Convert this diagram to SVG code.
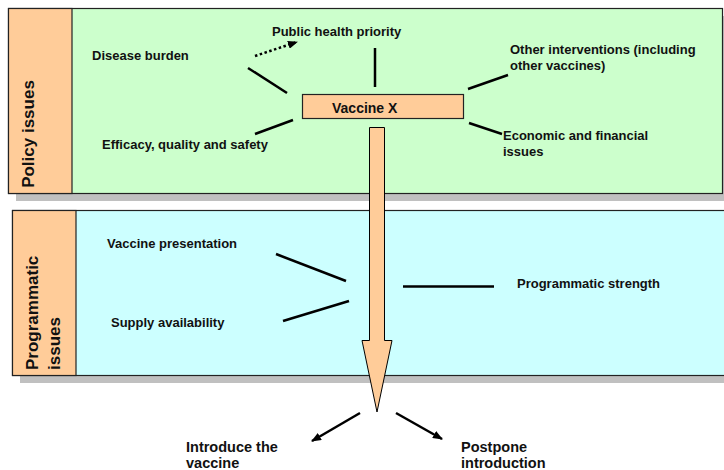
<svg xmlns="http://www.w3.org/2000/svg" width="724" height="470" viewBox="0 0 724 470">
<style>
text{font-family:"Liberation Sans",Arial,sans-serif;font-weight:bold;font-size:13px;fill:#111}
.lab{font-size:17px}
.out{font-size:14.5px}
.shadow{fill:#c0c0c0}
.frame{stroke:#222;stroke-width:1.2}
.ln{stroke:#000;stroke-width:2.5;fill:none}
</style>
<defs>
<marker id="ah" markerWidth="10" markerHeight="8" refX="9" refY="4" orient="auto" markerUnits="userSpaceOnUse">
<path d="M0,0 L10,4 L0,8 Z" fill="#000"/>
</marker>
</defs>
<rect width="724" height="470" fill="#fff"/>
<g id="policy">
<rect class="shadow" x="16" y="16" width="714" height="185"/>
<rect class="frame" x="8.5" y="8.5" width="714" height="185" fill="#ccffcc"/>
<rect class="frame" x="8.5" y="8.5" width="63.5" height="185" fill="#ffcc99"/>
<text class="lab" transform="translate(34,134) rotate(-90)" text-anchor="middle">Policy issues</text>
</g>
<g id="programmatic">
<rect class="shadow" x="20" y="218" width="710" height="165"/>
<rect class="frame" x="12.5" y="210.5" width="716" height="165" fill="#ccffff"/>
<rect class="frame" x="12.5" y="210.5" width="63.5" height="165" fill="#ffcc99"/>
<text class="lab" transform="translate(38,370) rotate(-90)">Programmatic</text>
<text class="lab" transform="translate(60,370) rotate(-90)">issues</text>
</g>
<g id="vaccine-x">
<rect x="302.5" y="94.5" width="161" height="24" fill="#ffcc99" stroke="#222" stroke-width="1.2"/>
<text x="332" y="113" style="font-size:14px">Vaccine X</text>
</g>
<g id="big-arrow">
<path d="M369.5,127.5 H384.5 V340.5 H392 L377,412 L362,340.5 H369.5 Z" fill="#ffcc99" stroke="#000" stroke-width="1"/>
</g>
<g id="labels">
<text x="92" y="60">Disease burden</text>
<text x="272" y="36">Public health priority</text>
<text x="510" y="54">Other interventions (including</text>
<text x="510" y="70">other vaccines)</text>
<text x="102" y="149">Efficacy, quality and safety</text>
<text x="503" y="140">Economic and financial</text>
<text x="503" y="156">issues</text>
<text x="107" y="248">Vaccine presentation</text>
<text x="111" y="327">Supply availability</text>
<text x="517" y="288">Programmatic strength</text>
<text class="out" x="186" y="452">Introduce the</text>
<text class="out" x="186" y="468">vaccine</text>
<text class="out" x="461" y="452">Postpone</text>
<text class="out" x="461" y="468">introduction</text>
</g>
<g id="connectors">
<line class="ln" x1="248" y1="68" x2="287" y2="93"/>
<line class="ln" x1="255" y1="134" x2="293" y2="120"/>
<line class="ln" x1="255" y1="56" x2="297" y2="42" stroke-dasharray="2.5,2.5" marker-end="url(#ah)"/>
<line class="ln" x1="375" y1="48" x2="375" y2="87"/>
<line class="ln" x1="468" y1="89" x2="508" y2="75"/>
<line class="ln" x1="469" y1="123" x2="502" y2="134"/>
<line class="ln" x1="276" y1="254" x2="346" y2="281"/>
<line class="ln" x1="283" y1="321" x2="349" y2="301"/>
<line class="ln" x1="403" y1="286.5" x2="494" y2="286.5"/>
<line class="ln" x1="360" y1="413" x2="312" y2="441" marker-end="url(#ah)"/>
<line class="ln" x1="396" y1="413" x2="442" y2="439" marker-end="url(#ah)"/>
</g>
</svg>
